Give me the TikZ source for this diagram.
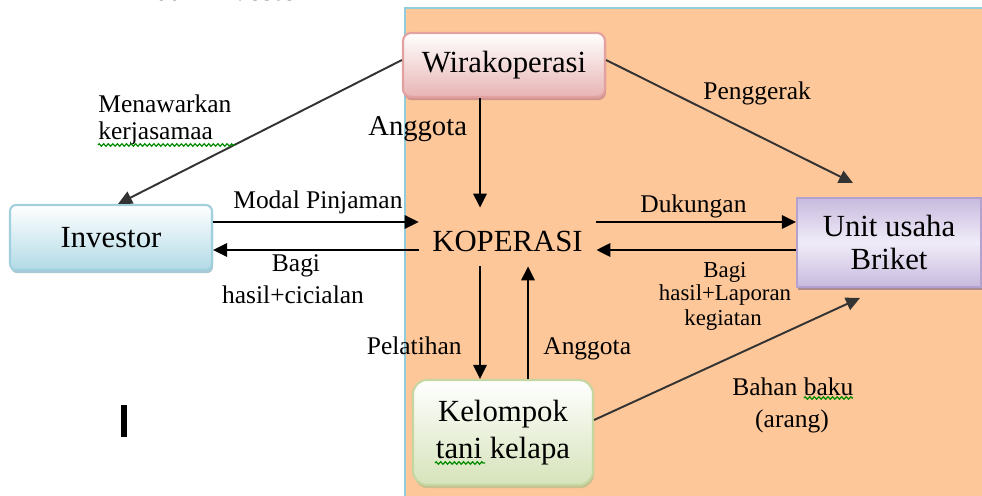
\documentclass[tikz,border=0pt]{standalone}
\usepackage{fontspec}
\setmainfont{Liberation Serif}
\usetikzlibrary{arrows.meta,shadows,decorations.pathmorphing}
\definecolor{panel}{RGB}{254,199,153}
\definecolor{panelborder}{RGB}{146,205,220}
\definecolor{wiraB}{RGB}{232,180,180}
\definecolor{wiraD}{RGB}{226,160,160}
\definecolor{wiraS}{RGB}{196,136,136}
\definecolor{invB}{RGB}{178,218,230}
\definecolor{invD}{RGB}{160,208,222}
\definecolor{invS}{RGB}{150,185,198}
\definecolor{unitA}{RGB}{200,186,222}
\definecolor{unitM}{RGB}{240,236,248}
\definecolor{unitD}{RGB}{178,162,205}
\definecolor{unitS}{RGB}{165,135,140}
\definecolor{kelB}{RGB}{214,227,186}
\definecolor{kelD}{RGB}{198,214,160}
\definecolor{kelS}{RGB}{185,190,140}
\definecolor{squig}{RGB}{0,140,0}
\begin{document}
\begin{tikzpicture}[x=0.02cm,y=-0.02cm,
  boxfont/.style={font=\fontsize{17.5}{18.5}\selectfont},
  lbl/.style={font=\fontsize{14.5}{16}\selectfont, inner sep=0pt},
  lblsmall/.style={font=\fontsize{13}{14}\selectfont, inner sep=0pt},
  wirabox/.style={boxfont, draw=wiraD, line width=1.2pt, rounded corners=4.5pt,
    top color=white, bottom color=wiraB,
    drop shadow={shadow xshift=0.6pt, shadow yshift=-1.8pt, fill=wiraS, opacity=0.8},
    minimum width=4.04cm, minimum height=1.28cm, inner sep=0pt},
  invbox/.style={boxfont, draw=invD, line width=1.2pt, rounded corners=3.5pt,
    top color=white, bottom color=invB,
    drop shadow={shadow xshift=0.6pt, shadow yshift=-1.8pt, fill=invS, opacity=0.8},
    minimum width=4.04cm, minimum height=1.30cm, inner sep=0pt},
  unitbox/.style={boxfont, draw=unitD, line width=1.2pt,
    top color=unitA, bottom color=unitA, middle color=unitM,
    drop shadow={shadow xshift=0.6pt, shadow yshift=-1.8pt, fill=unitS, opacity=0.9},
    minimum width=3.68cm, minimum height=1.78cm, inner sep=0pt, align=center},
  kelbox/.style={font=\fontsize{17.5}{21.5}\selectfont, draw=kelD, line width=1.2pt, rounded corners=8pt,
    top color=white, bottom color=kelB,
    drop shadow={shadow xshift=0.6pt, shadow yshift=-1.8pt, fill=kelS, opacity=0.8},
    minimum width=3.6cm, minimum height=2.1cm, inner sep=0pt, align=center},
  arr/.style={line width=1.5pt, -{Triangle[length=8pt,width=7.5pt]}},
  diag/.style={line width=1.1pt, draw=black!80, -{Triangle[length=8pt,width=7.5pt]}},
  squiggle/.style={draw=squig, line width=0.7pt, decorate,
    decoration={zigzag, amplitude=0.7pt, segment length=2.6pt}}
]
\useasboundingbox (0,0) rectangle (982,496);
% background panel
\fill[panel] (405,8) rectangle (990,500);
\draw[panelborder, line width=1.3pt] (405,500) -- (405,8) -- (990,8);

% cut-off title at top (cropped as in the reference)
\node[boxfont, anchor=base, inner sep=0pt] (title) at (231,1) {dan Investor};

% nodes
\node[wirabox] (wira) at (504,65) {Wirakoperasi};
\node[invbox] (inv) at (111,237.5) {Investor};
\node[unitbox] (unit) at (889,242.5) {Unit usaha\\Briket};
\node[kelbox] (kel) at (503,432.5) {Kelompok\\tani kelapa};
\node[minimum width=3.54cm, minimum height=1.16cm, inner sep=0pt,
  label={[boxfont, yshift=-2.3pt]center:KOPERASI}] (kop) at (507.5,237) {};

\coordinate (penEnd) at (853,183);
\coordinate (bahanEnd) at (860,298);

% connectors
\draw[diag] (wira.west |- 0,60) -- (inv.north -| 118,0);
\draw[arr] (wira.south -| 480,0) -- (kop.north -| 480,0);
\draw[diag] (wira.east |- 0,60) -- (penEnd);
\draw[arr] (inv.east |- 0,222) -- (kop.west |- 0,222);
\draw[arr] (kop.west |- 0,250) -- (inv.east |- 0,250);
\draw[arr] (kop.east |- 0,222) -- (unit.west |- 0,222);
\draw[arr] (unit.west |- 0,250) -- (kop.east |- 0,250);
\draw[arr] (kop.south -| 480,0) -- (kel.north -| 480,0);
\draw[arr] (kel.north -| 528,0) -- (kop.south -| 528,0);
\draw[diag] (kel.east |- 0,420) -- (bahanEnd);

% labels
\node[lbl, anchor=base west] (l1) at (98,113) {Menawarkan};
\node[lbl, anchor=base west] (l2) at (98,140) {kerjasamaa};
\node[lbl, font=\fontsize{16.3}{18}\selectfont, anchor=base west] (l3) at (368,136) {Anggota};
\node[lbl, anchor=base west] (l4) at (703,100) {Penggerak};
\node[lbl, anchor=base west] (l5) at (233,209) {Modal Pinjaman};
\node[lbl, anchor=base] (l6) at (296,271) {Bagi};
\node[lbl, anchor=base] (l7) at (293,303) {hasil+cicialan};
\node[lbl, anchor=base west] (l8) at (640,213) {Dukungan};
\node[lblsmall, anchor=base] (l9) at (725,277) {Bagi};
\node[lblsmall, anchor=base] (l10) at (725,300) {hasil+Laporan};
\node[lblsmall, anchor=base] (l11) at (723,325) {kegiatan};
\node[lbl, anchor=base east] (l12) at (462,354) {Pelatihan};
\node[lbl, anchor=base west] (l13) at (543,354) {Anggota};
\node[lbl, anchor=base west] (l14) at (732,395) {Bahan baku};
\node[lbl, anchor=base] (l15) at (792,427) {(arang)};

% spell-check squiggles
\draw[squiggle] (98,145) -- (235,145);
\draw[squiggle] (804,398) -- (853,398);
\draw[squiggle] (435,463) -- (485,463);

% text cursor
\fill[black] (121,405) rectangle (127,437);
\end{tikzpicture}
\end{document}
